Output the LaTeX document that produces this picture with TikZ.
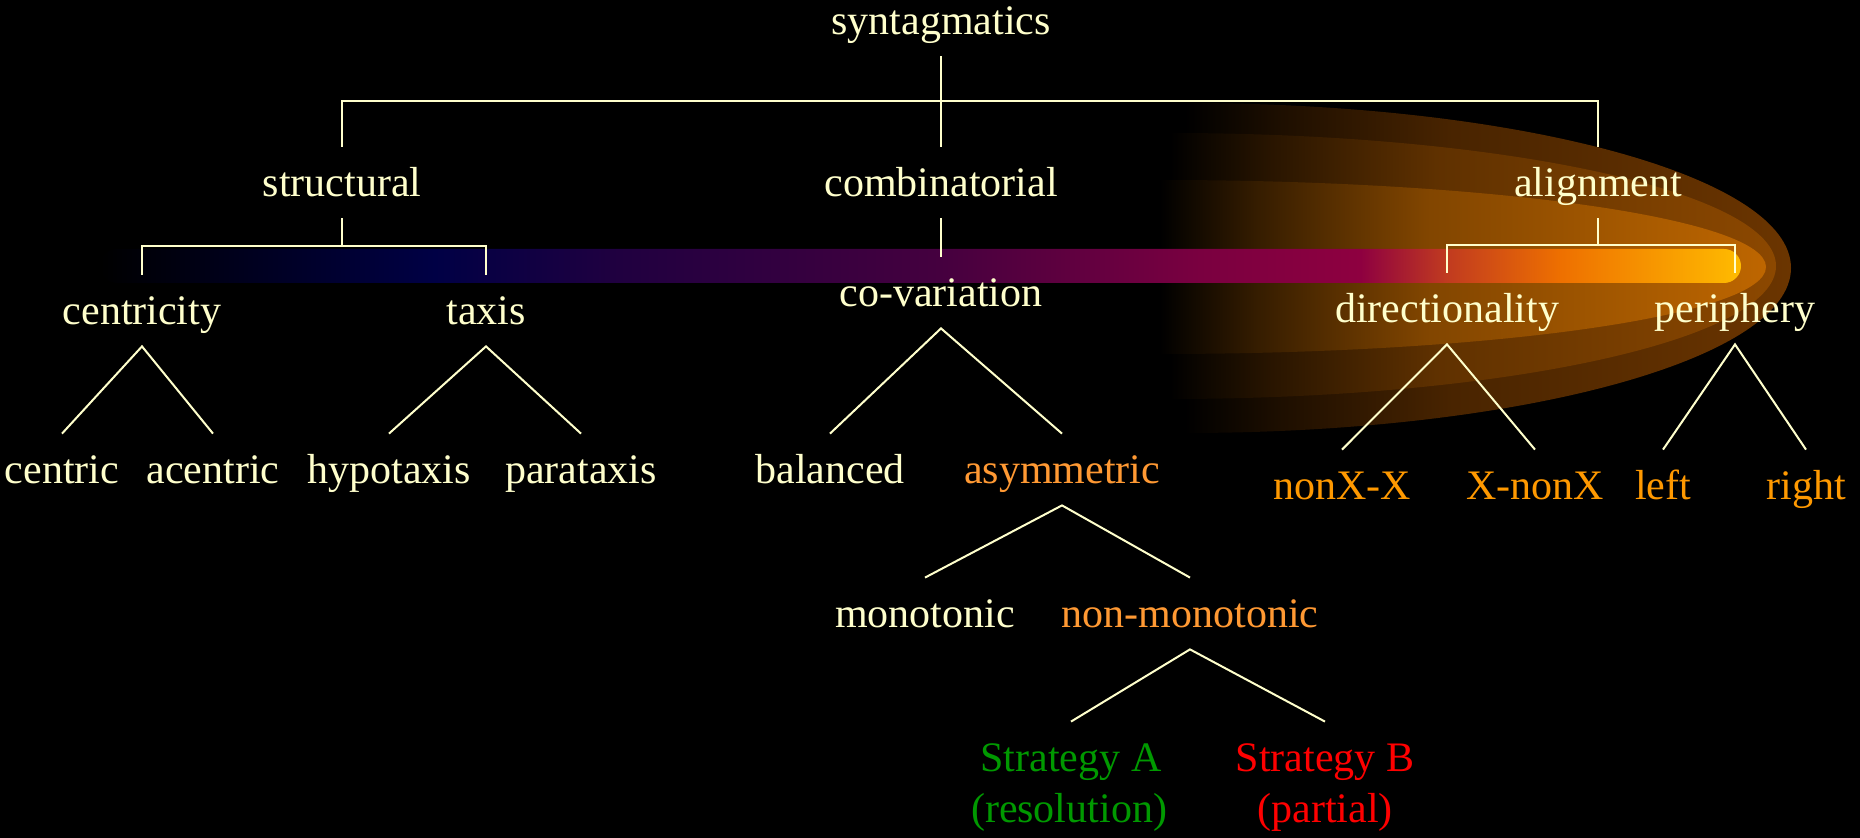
\documentclass[tikz,border=0pt]{standalone}
\usepackage{fontspec}
\setmainfont{Liberation Serif}
\usepackage{tikz}
\usetikzlibrary{calc}
\definecolor{cream}{RGB}{255,255,204}
\definecolor{asymorange}{RGB}{255,153,51}
\definecolor{alignorange}{RGB}{255,153,0}
\definecolor{stratgreen}{RGB}{0,153,0}
\definecolor{stratred}{RGB}{255,0,0}
\definecolor{glowout}{RGB}{107,53,0}
\definecolor{glowmid}{RGB}{140,72,0}
\definecolor{glowin}{RGB}{190,102,0}
\definecolor{barnavy}{RGB}{0,0,69}
\definecolor{barindigo}{RGB}{32,0,64}
\definecolor{barplum}{RGB}{69,0,63}
\definecolor{barwine}{RGB}{122,0,64}
\definecolor{barcrimson}{RGB}{142,0,64}
\definecolor{barred}{RGB}{192,58,32}
\definecolor{barorange}{RGB}{238,112,0}
\definecolor{baryellow}{RGB}{255,187,0}
\pgfdeclarehorizontalshading{barshade}{100bp}{color(0bp)=(black); color(25bp)=(black);
  color(35.2bp)=(barnavy); color(40.8bp)=(barindigo); color(50.6bp)=(barplum);
  color(58.5bp)=(barwine); color(63.4bp)=(barcrimson); color(66bp)=(barred);
  color(69.5bp)=(barorange); color(75bp)=(baryellow); color(100bp)=(baryellow)}
\pgfdeclarehorizontalshading{glowouter}{100bp}{color(0bp)=(black); color(50bp)=(black);
  color(54bp)=(glowout!28!black); color(61bp)=(glowout!68!black); color(75bp)=(glowout); color(100bp)=(glowout)}
\pgfdeclarehorizontalshading{glowmiddle}{100bp}{color(0bp)=(black); color(50bp)=(black);
  color(54bp)=(glowmid!28!black); color(61bp)=(glowmid!68!black); color(75bp)=(glowmid); color(100bp)=(glowmid)}
\pgfdeclarehorizontalshading{glowinner}{100bp}{color(0bp)=(black); color(50bp)=(black);
  color(54bp)=(glowin!28!black); color(61bp)=(glowin!68!black); color(75bp)=(glowin); color(100bp)=(glowin)}

\begin{document}
\begin{tikzpicture}[x=0.5pt, y=-0.5pt,
  lab/.style={font=\fontsize{21}{25}\selectfont, text=cream, anchor=base, inner sep=5pt, text height=20pt, text depth=5.5pt},
  branch/.style={draw=cream, line width=1pt}]
\useasboundingbox (0,0) rectangle (1860,838);
\fill[black] (0,0) rectangle (1860,838);

% glow behind the alignment branch
\begin{scope}
\clip (1185,0) rectangle (1860,838);
\shade[shading=glowouter] (1185,268) ellipse [x radius=303pt, y radius=82.5pt];
\end{scope}
\begin{scope}
\clip (1170,0) rectangle (1860,838);
\shade[shading=glowmiddle] (1170,266) ellipse [x radius=303pt, y radius=66.5pt];
\end{scope}
\begin{scope}
\clip (1160,0) rectangle (1860,838);
\shade[shading=glowinner] (1160,267) ellipse [x radius=303pt, y radius=43.5pt];
\end{scope}
\shade[shading=barshade, rounded corners=8.5pt] (100,249) rectangle (1741,283);

\node[lab] (syn) at (941,35) {syntagmatics};
\node[lab] (struc) at (342,197) {structural};
\node[lab] (comb) at (941,197) {combinatorial};
\node[lab] (alig) at (1598,197) {alignment};

\node[lab] (cent) at (142,325) {centricity};
\node[lab] (tax) at (486,325) {taxis};
\node[lab] (covar) at (941,307) {co-variation};
\node[lab] (dir) at (1447,323) {directionality};
\node[lab] (peri) at (1735,323) {periphery};

\node[lab] (centric) at (62,484) {centric};
\node[lab] (acentric) at (213,484) {acentric};
\node[lab] (hypo) at (389,484) {hypotaxis};
\node[lab] (para) at (581,484) {parataxis};
\node[lab] (bal) at (830,484) {balanced};
\node[lab, text=asymorange] (asym) at (1062,484) {asymmetric};
\node[lab, text=alignorange] (nxx) at (1342,500) {nonX-X};
\node[lab, text=alignorange] (xnx) at (1535,500) {X-nonX};
\node[lab, text=alignorange] (lft) at (1663,500) {left};
\node[lab, text=alignorange] (rgt) at (1806,500) {right};

\node[lab] (mono) at (925,628) {monotonic};
\node[lab, text=asymorange] (nonmono) at (1190,628) {non-monotonic};

\node[lab, text=stratgreen] (stratA) at (1071,772) {Strategy A};
\node[lab, text=stratgreen] (stratAnote) at (1069,823) {(resolution)};
\node[lab, text=stratred] (stratB) at (1325,772) {Strategy B};
\node[lab, text=stratred] (stratBnote) at (1325,823) {(partial)};

% brackets
\coordinate (topbar) at ($(syn.south)!.5!(comb.north)$);
\draw[branch] (syn.south) -- (comb.north);
\draw[branch] (struc.north) -- (struc.north |- topbar) -- (alig.north |- topbar) -- (alig.north);
\coordinate (strucbar) at ($(struc.south)!.5!(cent.north)$);
\draw[branch] (struc.south) -- (struc.south |- strucbar);
\draw[branch] (cent.north) -- (cent.north |- strucbar) -- (tax.north |- strucbar) -- (tax.north);
\draw[branch] (comb.south) -- (covar.north);
\coordinate (aligbar) at ($(alig.south)!.5!(dir.north)$);
\draw[branch] (alig.south) -- (alig.south |- aligbar);
\draw[branch] (dir.north) -- (dir.north |- aligbar) -- (peri.north |- aligbar) -- (peri.north);

% binary splits
\foreach \p/\l/\r in {cent/centric/acentric, tax/hypo/para, covar/bal/asym, dir/nxx/xnx,
    peri/lft/rgt, asym/mono/nonmono, nonmono/stratA/stratB}
  \draw[branch] (\l.north) -- (\p.south) -- (\r.north);
\end{tikzpicture}
\end{document}
